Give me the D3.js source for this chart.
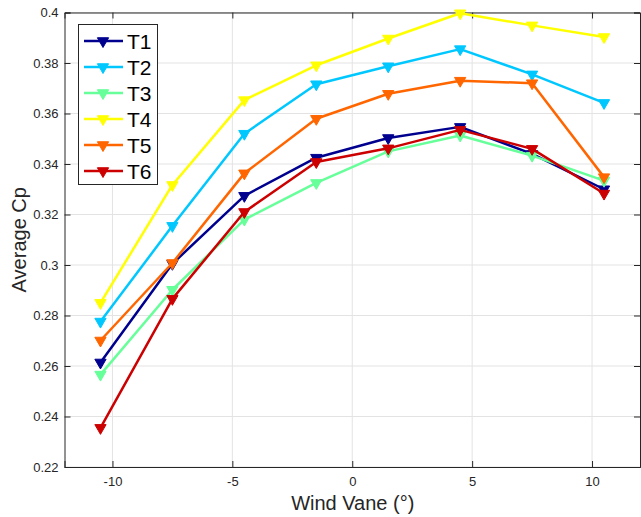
<!DOCTYPE html>
<html><head><meta charset="utf-8">
<script src="https://cdn.jsdelivr.net/npm/d3@7"></script>
<style>body{margin:0;background:#fff}svg{display:block;font-family:"Liberation Sans",Arial,sans-serif}</style>
</head><body><svg id="c" width="641" height="517"></svg>
<script>
const xValues = [-10.5, -7.5, -4.5, -1.5, 1.5, 4.5, 7.5, 10.5];
const seriesNames = ["T1", "T2", "T3", "T4", "T5", "T6"];
const seriesColors = ["#00008F", "#00C8FF", "#66FF99", "#FFFF00", "#FF6600", "#CC0000"];
const T1 = [0.2614, 0.3005, 0.3274, 0.3425, 0.3503, 0.3547, 0.3440, 0.3300];
const T2 = [0.2776, 0.3155, 0.3520, 0.3716, 0.3787, 0.3855, 0.3755, 0.3642];
const T3 = [0.2566, 0.2902, 0.3180, 0.3325, 0.3450, 0.3513, 0.3433, 0.3334];
const T4 = [0.2850, 0.3317, 0.3653, 0.3791, 0.3897, 0.3997, 0.3949, 0.3903];
const T5 = [0.2701, 0.3008, 0.3363, 0.3579, 0.3678, 0.3730, 0.3720, 0.3348];
const T6 = [0.2355, 0.2866, 0.3210, 0.3408, 0.3462, 0.3535, 0.3460, 0.3283];
const seriesValues = [T1, T2, T3, T4, T5, T6];
const xTicks = [-10, -5, 0, 5, 10];
const yTicks = [0.22, 0.24, 0.26, 0.28, 0.30, 0.32, 0.34, 0.36, 0.38, 0.40];

const svg = d3.select("#c");
const L = 64.5, R = 640, T = 12.5, B = 467;
const x = d3.scaleLinear().domain([-12, 12]).range([L, R]);
const y = d3.scaleLinear().domain([0.22, 0.40]).range([B, T]);
const axisColor = "#262626";

// grid
const g = svg.append("g");
g.selectAll(".gx").data(xTicks).join("line")
  .attr("x1", d => x(d)).attr("x2", d => x(d)).attr("y1", T).attr("y2", B)
  .attr("stroke", "#e3e3e3").attr("stroke-width", 1);
g.selectAll(".gy").data(yTicks).join("line")
  .attr("y1", d => y(d)).attr("y2", d => y(d)).attr("x1", L).attr("x2", R)
  .attr("stroke", "#e3e3e3").attr("stroke-width", 1);

// axes
const fmt = d => d3.format("")(+d.toFixed(2));
const ax = svg.append("g").attr("transform", `translate(0,${B})`)
  .call(d3.axisBottom(x).tickValues(xTicks).tickSize(-6).tickPadding(10).tickFormat(d => d));
const ay = svg.append("g").attr("transform", `translate(${L},0)`)
  .call(d3.axisLeft(y).tickValues(yTicks).tickSize(-6).tickPadding(6).tickFormat(fmt));
const axt = svg.append("g").attr("transform", `translate(0,${T})`)
  .call(d3.axisTop(x).tickValues(xTicks).tickSize(-6).tickFormat(""));
const ayr = svg.append("g").attr("transform", `translate(${R},0)`)
  .call(d3.axisRight(y).tickValues(yTicks).tickSize(-6).tickFormat(""));
[ax, ay, axt, ayr].forEach(a => {
  a.selectAll("path").attr("stroke", axisColor).attr("stroke-width", 1);
  a.selectAll("line").attr("stroke", axisColor);
  a.selectAll("text").attr("fill", "#262626").attr("font-size", 13).attr("font-family", "Liberation Sans, Arial, sans-serif");
});

// lines and markers
const line = d3.line().x((d, i) => x(xValues[i])).y(d => y(d));
const tri = d3.symbol().type(d3.symbolTriangle).size(55);
seriesValues.forEach((vals, k) => {
  svg.append("path").datum(vals).attr("d", line)
    .attr("fill", "none").attr("stroke", seriesColors[k]).attr("stroke-width", 2.5)
    .attr("stroke-linejoin", "round");
  svg.append("g").selectAll("path").data(vals).join("path")
    .attr("d", tri)
    .attr("transform", (d, i) => `translate(${x(xValues[i])},${y(d)}) rotate(180)`)
    .attr("fill", seriesColors[k]).attr("stroke", seriesColors[k]).attr("stroke-width", 1);
});

// legend
const lg = svg.append("g");
lg.append("rect").attr("x", 78.5).attr("y", 24.5).attr("width", 79).attr("height", 160)
  .attr("fill", "#fff").attr("stroke", "#262626").attr("stroke-width", 1);
seriesNames.forEach((n, k) => {
  const yy = 41 + k * 26;
  lg.append("line").attr("x1", 84).attr("x2", 123).attr("y1", yy).attr("y2", yy)
    .attr("stroke", seriesColors[k]).attr("stroke-width", 2.5);
  lg.append("path").attr("d", tri).attr("transform", `translate(103,${yy}) rotate(180)`)
    .attr("fill", seriesColors[k]).attr("stroke", seriesColors[k]);
  lg.append("text").attr("x", 127).attr("y", yy + 8).text(n)
    .attr("font-size", 21).attr("fill", "#000");
});

// axis labels
svg.append("text").attr("x", (L + R) / 2 + 0.5).attr("y", 510).attr("text-anchor", "middle")
  .attr("font-size", 20).attr("fill", "#262626").text("Wind Vane (°)");
svg.append("text").attr("transform", `translate(26,${(T + B) / 2}) rotate(-90)`)
  .attr("text-anchor", "middle").attr("font-size", 20).attr("fill", "#262626").text("Average Cp");
</script></body></html>
